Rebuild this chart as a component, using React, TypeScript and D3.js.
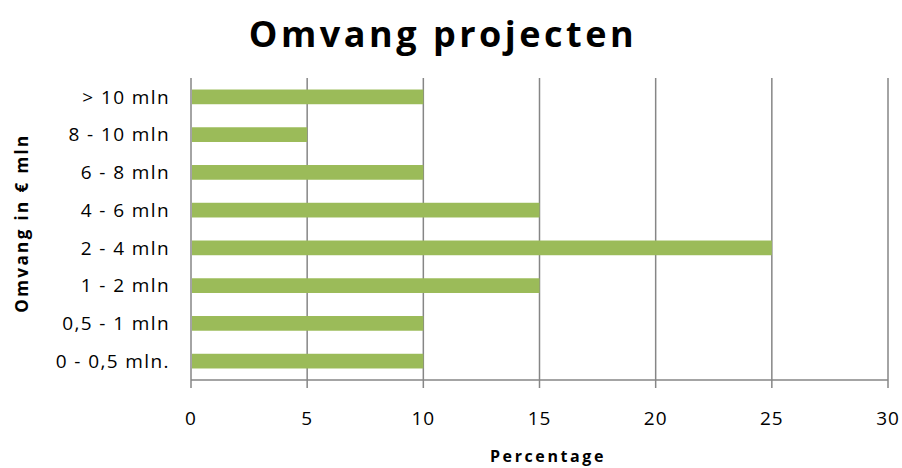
import React from "react";
import * as d3 from "d3";

const categories = ["> 10 mln", "8 - 10 mln", "6 - 8 mln", "4 - 6 mln", "2 - 4 mln", "1 - 2 mln", "0,5 - 1 mln", "0 - 0,5 mln."];
const values = [10, 5, 10, 15, 25, 15, 10, 10];
const xTicks = [0, 5, 10, 15, 20, 25, 30];

const W = 902, H = 468;
const left = 191, right = 888, top = 78, bottom = 380;
const font = "'Open Sans', sans-serif";

export default function App() {
  const x = d3.scaleLinear().domain([0, 30]).range([left, right]);
  const y = d3.scaleBand().domain(categories).range([top, bottom]).paddingInner(0.61).paddingOuter(0.305);
  return (
    <svg width={W} height={H} style={{ position: "absolute", left: 0, top: 0 }}>
      <rect width={W} height={H} fill="#fff" />
      <text x={443} y={47} textAnchor="middle" fontFamily={font} fontWeight="bold" fontSize={36} letterSpacing={3.5} fill="#000">Omvang projecten</text>
      {xTicks.map(t => (
        <g key={t}>
          <line x1={x(t)} x2={x(t)} y1={top} y2={bottom + 8} stroke="#868686" strokeWidth={1.5} />
          <text x={x(t)} y={425} textAnchor="middle" fontFamily={font} fontSize={19} letterSpacing={1} fill="#000">{t}</text>
        </g>
      ))}
      <line x1={left} x2={right} y1={bottom} y2={bottom} stroke="#868686" strokeWidth={1.5} />
      {categories.map((c, i) => (
        <g key={c}>
          <rect x={x(0) + 1} y={y(c)!} width={x(values[i]) - x(0) - 1} height={y.bandwidth()} fill="#9BBB59" />
          <text x={170} y={y(c)! + y.bandwidth() / 2} dy="0.36em" textAnchor="end" fontFamily={font} fontSize={19} letterSpacing={1.4} fill="#000">{c}</text>
        </g>
      ))}
      <text x={548} y={462} textAnchor="middle" fontFamily={font} fontWeight="bold" fontSize={16} letterSpacing={2.6} fill="#000">Percentage</text>
      <text transform={`translate(28,223) rotate(-90)`} textAnchor="middle" fontFamily={font} fontWeight="bold" fontSize={17} letterSpacing={2.4} fill="#000">Omvang in € mln</text>
    </svg>
  );
}
